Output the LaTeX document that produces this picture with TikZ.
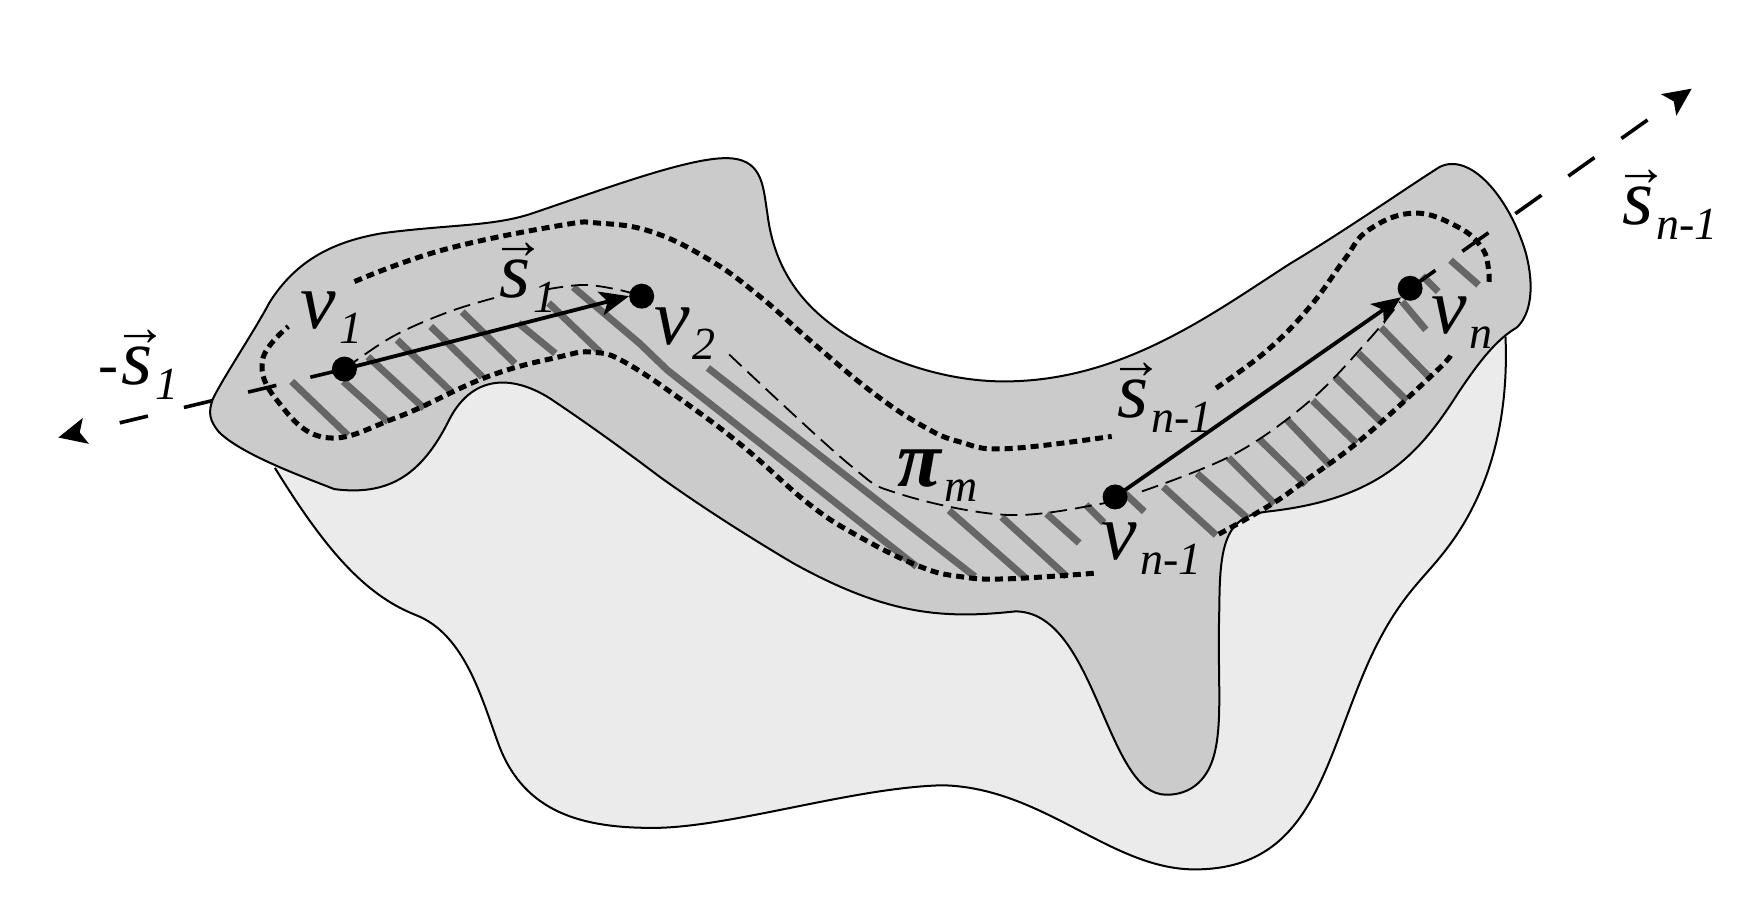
\documentclass[tikz,border=0pt]{standalone}
\usepackage{fontspec}
\setmainfont{Liberation Serif}
\usetikzlibrary{arrows.meta}
\definecolor{lightblob}{HTML}{EBEBEB}
\definecolor{darkblob}{HTML}{CBCBCB}
\definecolor{hatchgray}{HTML}{666666}
\tikzset{
  outline/.style={draw=black,line width=2pt,line join=round},
  hatch/.style={draw=hatchgray,line width=7pt},
  border/.style={draw=black,line width=5pt,dash pattern=on 8pt off 5pt},
  pathm/.style={draw=black,line width=1.8pt,dash pattern=on 17pt off 8pt},
  vertex/.style={circle,fill=black,inner sep=0pt,minimum size=25pt},
  chord/.style={draw=black,line width=3.8pt,-{Stealth[length=29pt,width=24pt,inset=7pt]}},
  ray/.style={draw=black,line width=3.6pt,-{Stealth[length=28pt,width=26pt,inset=6pt]}},
  lab/.style={anchor=base west,inner sep=0pt,outer sep=0pt}
}
\newcommand{\biglet}[1]{{\fontsize{80}{80}\selectfont\itshape #1}}
\newcommand{\subl}[1]{\kern3pt\raisebox{-15pt}{\fontsize{46}{46}\selectfont\itshape #1}}
\newcommand{\arrs}{\rlap{\hspace{-8pt}\raisebox{39pt}{\fontsize{54}{54}\selectfont\bfseries →}}\biglet{s}}
\begin{document}
\begin{tikzpicture}[x=1.1218pt,y=-1.1218pt]
\useasboundingbox (0,0) rectangle (1568,804);
% light blob
\fill[lightblob] (245,417) .. controls (290,490) and (325,530) .. (370,548)
  .. controls (415,565) and (430,625) .. (445,665)
  .. controls (468,725) and (520,738) .. (582,738)
  .. controls (650,738) and (760,702) .. (840,700)
  .. controls (930,702) and (990,775) .. (1065,775)
  .. controls (1170,775) and (1180,680) .. (1220,590)
  .. controls (1245,535) and (1265,520) .. (1285,495)
  .. controls (1330,440) and (1345,370) .. (1342,300)
  -- (1280,350) -- (1100,420) -- (900,500) -- (650,430) -- (470,330) -- (430,320) -- (350,400) -- cycle;
\draw[outline] (245,417) .. controls (290,490) and (325,530) .. (370,548)
  .. controls (415,565) and (430,625) .. (445,665)
  .. controls (468,725) and (520,738) .. (582,738)
  .. controls (650,738) and (760,702) .. (840,700)
  .. controls (930,702) and (990,775) .. (1065,775)
  .. controls (1170,775) and (1180,680) .. (1220,590)
  .. controls (1245,535) and (1265,520) .. (1285,495)
  .. controls (1330,440) and (1345,370) .. (1342,300);
% dark blob
\path[outline,fill=darkblob] (190,355) .. controls (200,335) and (228,293) .. (240,270)
  .. controls (265,230) and (300,215) .. (340,208)
  .. controls (400,200) and (440,202) .. (475,190)
  .. controls (540,168) and (610,142) .. (645,141)
  .. controls (680,140) and (680,165) .. (684,190)
  .. controls (690,240) and (715,275) .. (760,302)
  .. controls (800,326) and (850,340) .. (895,340)
  .. controls (1000,340) and (1080,280) .. (1150,235)
  .. controls (1200,205) and (1250,170) .. (1283,149)
  .. controls (1310,135) and (1345,175) .. (1360,225)
  .. controls (1368,255) and (1365,280) .. (1352,292)
  .. controls (1335,302) and (1320,320) .. (1300,350)
  .. controls (1265,405) and (1230,445) .. (1130,456)
  .. controls (1095,460) and (1087,480) .. (1087,540)
  .. controls (1085,600) and (1090,640) .. (1083,670)
  .. controls (1075,705) and (1050,710) .. (1035,708)
  .. controls (985,700) and (975,545) .. (905,545)
  .. controls (840,552) and (790,548) .. (707,502)
  .. controls (670,480) and (630,455) .. (588,425)
  .. controls (555,400) and (520,375) .. (490,355)
  .. controls (455,333) and (420,335) .. (400,375)
  .. controls (375,425) and (345,442) .. (298,436)
  .. controls (270,425) and (215,405) .. (195,385)
  .. controls (187,375) and (185,368) .. (190,355) -- cycle;
% hatching
\foreach \a/\b/\c/\d in {260/340/310/388, 306/340/346/376, 328/318/378/364, 354/303/402/349,
  384/291/430/336, 412/278/459/324, 462/288/495/315, 489/270/535/314,
  631/328/869/514, 846/455/914/515, 893/461/951/514, 933/458/962/484, 968/450/984/466,
  1003/440/1020/456, 1037/434/1084/477, 1067/422/1112/462, 1095/408/1136/449, 1123/392/1164/432,
  1147/374/1186/415, 1170/357/1209/395, 1190/336/1231/376, 1211/315/1254/357, 1231/292/1274/336,
  1250/269/1271/294, 1268/246/1282/260, 1293/232/1318/254}
  \draw[hatch] (\a,\b) -- (\c,\d);
\draw[hatch] (511,256) -- (570,306) -- (595,330) -- (817,505);
% thick dashed boundary
\draw[border] plot[smooth,tension=0.7] coordinates {(316,251) (394,223) (499,201) (535,199) (582,207) (633,232) (677,264) (725,306) (778,350) (823,380) (856,394) (897,400) (991,389)};
\draw[border] plot[smooth,tension=0.7] coordinates {(1084,346) (1130,312) (1168,273) (1198,232) (1220,205) (1260,190) (1299,202) (1321,221) (1327,241) (1327,255)};
\draw[border] plot[smooth,tension=0.7] coordinates {(1293,317) (1277,334) (1213,392) (1160,431) (1139,446) (1112,462) (1083,478)};
\draw[border] plot[smooth,tension=0.7] coordinates {(975,511) (897,516) (856,514) (820,505) (767,479) (722,450) (666,401) (618,364) (559,324) (529,314) (499,318) (434,336) (354,372) (290,390) (247,357) (234,321) (257,291)};
% vertices
\node[vertex] (v1) at (307,329) {};
\node[vertex] (v2) at (572,264) {};
\node[vertex] (vm) at (994,443) {};
\node[vertex] (vn) at (1257,257) {};
% path pi_m
\draw[pathm] plot[smooth,tension=0.6] coordinates {(307,329) (350,300) (400,278) (443,265)};
\draw[pathm] plot[smooth,tension=0.6] coordinates {(487,258) (520,254) (550,258) (572,264)};
\draw[pathm] plot[smooth,tension=0.6] coordinates {(650,316) (757,414) (801,440) (897,459) (982,449) (994,443)};
\draw[pathm] plot[smooth,tension=0.6] coordinates {(1018,438) (1100,405) (1168,357) (1220,303) (1248,269)};
% chords
\draw[chord] (v1.center) -- (v2.west);
\draw[chord] (vm.center) -- (vn.south west);
% rays
\coordinate (ta) at (52,390);
\coordinate (tb) at (1508,79);
\draw[ray,dash pattern=on 35pt off 35pt on 29pt off 37pt on 29pt off 37pt on 29pt off 300pt] (v1.center) -- (ta);
\draw[ray,dash pattern=on 31pt off 33pt on 32pt off 33pt on 32pt off 33pt on 32pt off 33pt on 32pt off 300pt] (vn.center) -- (tb);
% labels
\node[lab] (lv1) at (268,293) {\biglet{v}\subl{1}};
\node[lab] (lv2) at (583,307) {\biglet{v}\subl{2}};
\node[lab] (lvm) at (982,499) {\biglet{v}\subl{n-1}};
\node[lab] (lvn) at (1276,297) {\biglet{v}\subl{n}};
\node[lab] (ls1m) at (88,343) {{\fontsize{60}{60}\selectfont\itshape -}\kern3pt\arrs\subl{1}};
\node[lab] (ls1) at (445,265) {\arrs\subl{1}};
\node[lab] (lsm) at (996,372) {\arrs\subl{n-1}};
\node[lab] (lsr) at (1446,200) {\arrs\subl{n-1}};
\node[lab] (lpi) at (800,434) {{\fontsize{80}{80}\selectfont\bfseries\itshape π}\subl{m}};
\end{tikzpicture}
\end{document}
